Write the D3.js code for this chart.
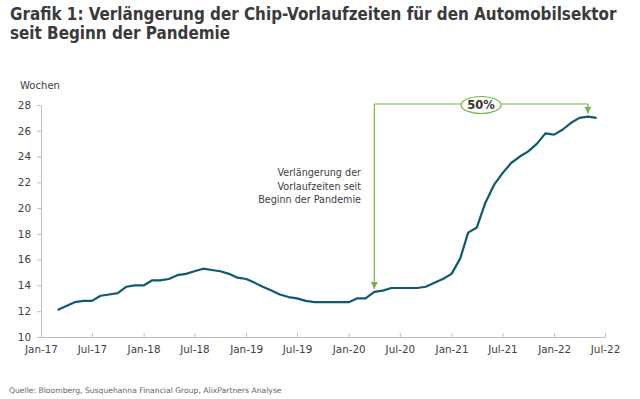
<!DOCTYPE html>
<html>
<head>
<meta charset="utf-8">
<script src="https://cdn.jsdelivr.net/npm/d3@7"></script>
<style>
  body { margin: 0; background: #fff; }
  svg { display: block; }
</style>
</head>
<body>
<div id="chart"></div>
<script>
// Monthly lead times for chips (weeks)
const months = [
  "2017-03","2017-04","2017-05","2017-06","2017-07","2017-08","2017-09","2017-10","2017-11","2017-12",
  "2018-01","2018-02","2018-03","2018-04","2018-05","2018-06","2018-07","2018-08","2018-09","2018-10","2018-11","2018-12",
  "2019-01","2019-02","2019-03","2019-04","2019-05","2019-06","2019-07","2019-08","2019-09","2019-10","2019-11","2019-12",
  "2020-01","2020-02","2020-03","2020-04","2020-05","2020-06","2020-07","2020-08","2020-09","2020-10","2020-11","2020-12",
  "2021-01","2021-02","2021-03","2021-04","2021-05","2021-06","2021-07","2021-08","2021-09","2021-10","2021-11","2021-12",
  "2022-01","2022-02","2022-03","2022-04","2022-05","2022-06"
];
const leadTimes = [
  12.1, 12.4, 12.7, 12.8, 12.8, 13.2, 13.3, 13.4, 13.9, 14.0,
  14.0, 14.4, 14.4, 14.5, 14.8, 14.9, 15.1, 15.3, 15.2, 15.1, 14.9, 14.6,
  14.5, 14.2, 13.9, 13.6, 13.3, 13.1, 13.0, 12.8, 12.7, 12.7, 12.7, 12.7,
  12.7, 13.0, 13.0, 13.5, 13.6, 13.8, 13.8, 13.8, 13.8, 13.9, 14.2, 14.5,
  14.9, 16.1, 18.1, 18.5, 20.4, 21.8, 22.7, 23.5, 24.0, 24.4, 25.0, 25.8,
  25.7, 26.1, 26.6, 27.0, 27.1, 27.0
];
const xTickLabels = ["Jan-17","Jul-17","Jan-18","Jul-18","Jan-19","Jul-19","Jan-20","Jul-20","Jan-21","Jul-21","Jan-22","Jul-22"];
const yTicks = [10, 12, 14, 16, 18, 20, 22, 24, 26, 28];
const noteLines = ["Verlängerung der", "Vorlaufzeiten seit", "Beginn der Pandemie"];
const arrowFrom = "2020-04", arrowTo = "2022-05", arrowLabel = "50%";
const titleLines = ["Grafik 1: Verlängerung der Chip-Vorlaufzeiten für den Automobilsektor", "seit Beginn der Pandemie"];
const unitLabel = "Wochen";
const sourceText = "Quelle: Bloomberg, Susquehanna Financial Group, AlixPartners  Analyse";

const width = 640, height = 399;
const titleFont = "'DejaVu Sans Condensed', 'DejaVu Sans', sans-serif";
const font = "'DejaVu Sans', sans-serif";
const textColor = "#404040", axisColor = "#bfbfbf";
const lineColor = "#0f5a6b", green = "#76b343";

const parseMonth = d3.timeParse("%Y-%m");
const parseTick = d3.timeParse("%b-%y");
const data = months.map((m, i) => ({ date: parseMonth(m), value: leadTimes[i] }));
const tickDates = xTickLabels.map(parseTick);

const svg = d3.select("#chart").append("svg")
    .attr("width", width)
    .attr("height", height)
    .style("font-family", font);

// shrink/grow a text element's font so it is as wide as in the picture
function fitWidth(sel, target) {
  const node = sel.node();
  const size = parseFloat(sel.attr("font-size"));
  sel.attr("font-size", size * target / node.getComputedTextLength());
  return +sel.attr("font-size");
}

// Title
const title = svg.append("g").attr("fill", "#3a3a3a").attr("font-weight", "bold")
    .style("font-family", titleFont);
const t1 = title.append("text").attr("x", 10).attr("y", 20).attr("font-size", 15).text(titleLines[0]);
const titleSize = fitWidth(t1, 607);
title.append("text").attr("x", 10).attr("y", 39).attr("font-size", titleSize).text(titleLines[1]);

// Scales
const x = d3.scaleTime()
    .domain([tickDates[0], tickDates[tickDates.length - 1]])
    .range([41, 605]);
const y = d3.scaleLinear()
    .domain([10, 28])
    .range([337, 105]);

// Y axis
const yAxis = svg.append("g")
    .attr("transform", "translate(41,0)")
    .call(d3.axisLeft(y).tickValues(yTicks).tickSize(4).tickSizeOuter(0).tickPadding(6));

// X axis, ticks point up into the plot
const xAxis = svg.append("g")
    .attr("transform", "translate(0,337)")
    .call(d3.axisBottom(x).tickValues(tickDates).tickFormat(d3.timeFormat("%b-%y"))
      .tickSize(-4).tickSizeOuter(0).tickPadding(9));

[xAxis, yAxis].forEach(ax => {
  ax.select(".domain").attr("stroke", axisColor);
  ax.selectAll(".tick line").attr("stroke", axisColor);
  ax.selectAll(".tick text").attr("fill", textColor).style("font-family", font);
});
xAxis.selectAll(".tick text").attr("font-size", 10);
const xLabelSize = fitWidth(xAxis.select(".tick text"), 33);
xAxis.selectAll(".tick text").attr("font-size", xLabelSize);
yAxis.selectAll(".tick text").attr("font-size", xLabelSize);

// Unit label
const unit = svg.append("text").attr("x", 20).attr("y", 89)
    .attr("font-size", 10).attr("fill", textColor).text(unitLabel);
fitWidth(unit, 40);

// Line
const line = d3.line()
    .x(d => x(d.date))
    .y(d => y(d.value));

svg.append("path")
    .datum(data)
    .attr("fill", "none")
    .attr("stroke", lineColor)
    .attr("stroke-width", 2.2)
    .attr("stroke-linejoin", "round")
    .attr("d", line);

// Annotation: bracket with arrows from start of pandemic to latest value
svg.append("defs").append("marker")
    .attr("id", "arrow")
    .attr("viewBox", "0 0 10 10")
    .attr("refX", 10).attr("refY", 5)
    .attr("markerWidth", 7).attr("markerHeight", 7)
    .attr("markerUnits", "userSpaceOnUse")
    .attr("orient", "auto")
  .append("path")
    .attr("d", "M0,0L10,5L0,10Z")
    .attr("fill", green);

const from = data.find(d => +d.date === +parseMonth(arrowFrom));
const to = data.find(d => +d.date === +parseMonth(arrowTo));
const xa = x(from.date), xb = x(to.date);
const yTop = y(28) - 1;

svg.append("path")
    .attr("d", `M${xa},${yTop}L${xa},${y(from.value) - 3}`)
    .attr("stroke", green).attr("stroke-width", 1.2).attr("fill", "none")
    .attr("marker-end", "url(#arrow)");
svg.append("path")
    .attr("d", `M${xa},${yTop}L${xb},${yTop}L${xb},${y(to.value) - 3}`)
    .attr("stroke", green).attr("stroke-width", 1.2).attr("fill", "none")
    .attr("marker-end", "url(#arrow)");

const cx = (xa + xb) / 2;
svg.append("ellipse")
    .attr("cx", cx).attr("cy", yTop + 1)
    .attr("rx", 20).attr("ry", 8.5)
    .attr("fill", "#fff").attr("stroke", green).attr("stroke-width", 1.2);
svg.append("text")
    .attr("x", cx).attr("y", yTop + 5)
    .attr("text-anchor", "middle")
    .attr("font-size", 11.5).attr("font-weight", "bold")
    .attr("fill", "#333")
    .text(arrowLabel);

// Note text next to the arrow
const note = svg.append("g").attr("fill", textColor);
const noteText = noteLines.map((s, i) =>
  note.append("text").attr("x", 361).attr("y", 176 + i * 13.5)
    .attr("text-anchor", "end").attr("font-size", 10).text(s));
const noteSize = fitWidth(noteText[2], 103);
noteText.forEach(t => t.attr("font-size", noteSize));

// Source
const src = svg.append("text").attr("x", 9).attr("y", 393)
    .attr("font-size", 8).attr("fill", "#666").text(sourceText);
fitWidth(src, 273);
</script>
</body>
</html>
